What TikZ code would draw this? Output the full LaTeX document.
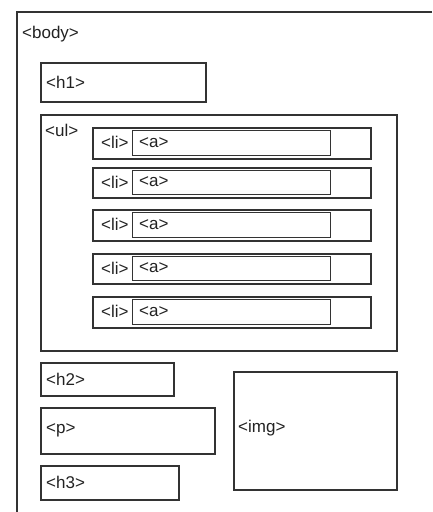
\documentclass[tikz,border=0pt]{standalone}
\usepackage{fontspec}
\setmainfont{Liberation Sans}
\definecolor{linec}{HTML}{333333}
\definecolor{txtc}{HTML}{222222}
\begin{document}
\begin{tikzpicture}[x=1pt,y=-1pt,
  box/.style={draw=linec, line width=1.6pt, rectangle, anchor=north west, inner sep=0pt},
  lbl/.style={anchor=west, inner sep=0pt, text=txtc, font=\fontsize{17}{19}\selectfont}]
\useasboundingbox (0,0) rectangle (432,512);
% body
\coordinate (bodytr) at (432,12);
\coordinate (bodybl) at (17,512);
\draw[draw=linec, line width=1.6pt] (bodytr) -| (bodybl);
\node[lbl] (bodyl) at (22,34) {<body>};
% h1
\node[box, minimum width=165, minimum height=39] (h1) at (40,62) {};
\node[lbl] (h1l) at (46,82) {<h1>};
% ul
\node[box, minimum width=356, minimum height=236] (ul) at (40,114) {};
\node[lbl] (ull) at (45,130) {<ul>};
% li / a rows
\foreach \i/\t/\h in {1/127/31, 2/167/30, 3/209/31, 4/253/30, 5/296/31}{
  \node[box, minimum width=278, minimum height=\h] (li\i) at (92,\t) {};
  \node[box, line width=1.4pt, minimum width=198, minimum height=\h-6] (a\i) at (132,\t+3) {};
  \node[lbl] (lil\i) at (101,\t+\h/2) {<li>};
  \node[lbl] (al\i) at (139,\t+\h/2) {<a>};
}
% h2, p, h3
\node[box, minimum width=133, minimum height=33] (h2) at (40,362) {};
\node[lbl] (h2l) at (46,379) {<h2>};
\node[box, minimum width=174, minimum height=46] (p) at (40,407) {};
\node[lbl] (pl) at (46,430) {<p>};
\node[box, minimum width=138, minimum height=34] (h3) at (40,465) {};
\node[lbl] (h3l) at (46,482) {<h3>};
% img
\node[box, minimum width=163, minimum height=118] (img) at (233,371) {};
\node[lbl] (imgl) at (238,428) {<img>};
\end{tikzpicture}
\end{document}
